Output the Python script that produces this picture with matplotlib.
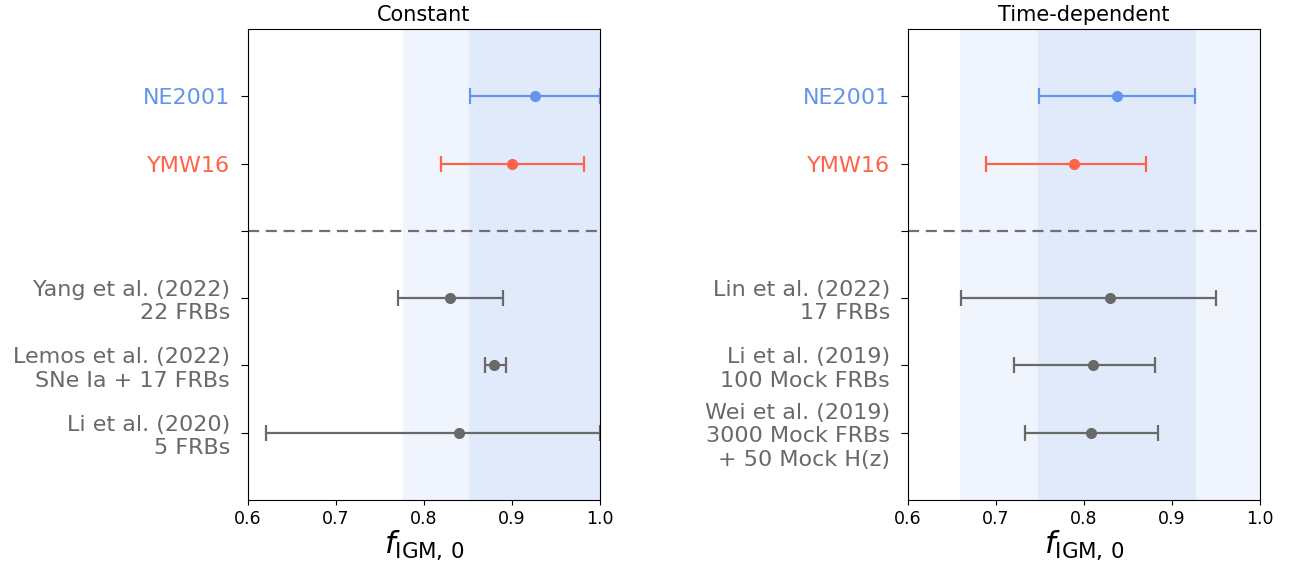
import matplotlib
matplotlib.use("Agg")
import matplotlib.pyplot as plt

# Data (from top to bottom)
left_labels = ["NE2001", "YMW16", "", "Yang et al. (2022)\n22 FRBs",
               "Lemos et al. (2022)\nSNe Ia + 17 FRBs", "Li et al. (2020)\n5 FRBs"]
left_vals = [0.926, 0.900, None, 0.830, 0.880, 0.840]
left_lo = [0.852, 0.819, None, 0.770, 0.869, 0.620]
left_hi = [1.000, 0.982, None, 0.890, 0.893, 1.000]
left_shade_1sig = [0.851, 1.0]
left_shade_2sig = [0.776, 1.0]

right_labels = ["NE2001", "YMW16", "", "Lin et al. (2022)\n17 FRBs",
                "Li et al. (2019)\n100 Mock FRBs",
                "Wei et al. (2019)\n3000 Mock FRBs\n+ 50 Mock H(z)"]
right_vals = [0.8375, 0.789, None, 0.830, 0.810, 0.808]
right_lo = [0.749, 0.689, None, 0.660, 0.720, 0.733]
right_hi = [0.926, 0.870, None, 0.950, 0.881, 0.884]
right_shade_1sig = [0.748, 0.927]
right_shade_2sig = [0.659, 1.0]

titles = ["Constant", "Time-dependent"]
colors = ["#6495ED", "#FF6347", "#696969", "#696969", "#696969", "#696969"]

fig = plt.figure(figsize=(12.9, 5.68), dpi=100)
ax1 = fig.add_axes([0.1922, 0.1197, 0.2729, 0.8292])
ax2 = fig.add_axes([0.7039, 0.1197, 0.2729, 0.8292])

panels = [
    (ax1, left_labels, left_vals, left_lo, left_hi, left_shade_1sig, left_shade_2sig),
    (ax2, right_labels, right_vals, right_lo, right_hi, right_shade_1sig, right_shade_2sig),
]

for i, (ax, labels, vals, lo, hi, s1, s2) in enumerate(panels):
    n = len(labels)
    ypos = [n - 1 - k for k in range(n)]
    ax.axvspan(s2[0], s2[1], color="#6495ED", alpha=0.1, lw=0)
    ax.axvspan(s1[0], s1[1], color="#6495ED", alpha=0.1, lw=0)
    for k in range(n):
        if vals[k] is None:
            ax.axhline(ypos[k], color="#6e7079", ls=(0, (5, 3)), lw=1.6)
            continue
        ax.errorbar(vals[k], ypos[k],
                    xerr=[[vals[k] - lo[k]], [hi[k] - vals[k]]],
                    fmt="o", color=colors[k], ms=7, lw=1.6, capsize=6,
                    capthick=1.6)
    ax.set_xlim(0.6, 1.0)
    ax.set_ylim(-1, n)
    ax.set_yticks(ypos)
    ax.set_yticklabels(labels, fontsize=16, ha="right")
    for lab, c in zip(ax.get_yticklabels(), colors):
        lab.set_color(c)
        lab.set_multialignment("right")
    ax.tick_params(axis="y", pad=8, length=5)
    ax.set_xticks([0.6, 0.7, 0.8, 0.9, 1.0])
    ax.tick_params(axis="x", labelsize=12.5)
    ax.set_xlabel(r"$f_{\rm IGM,\,0}$", fontsize=22, labelpad=1)
    ax.set_title(titles[i], fontsize=15)

fig.savefig("out.png", dpi=100)
